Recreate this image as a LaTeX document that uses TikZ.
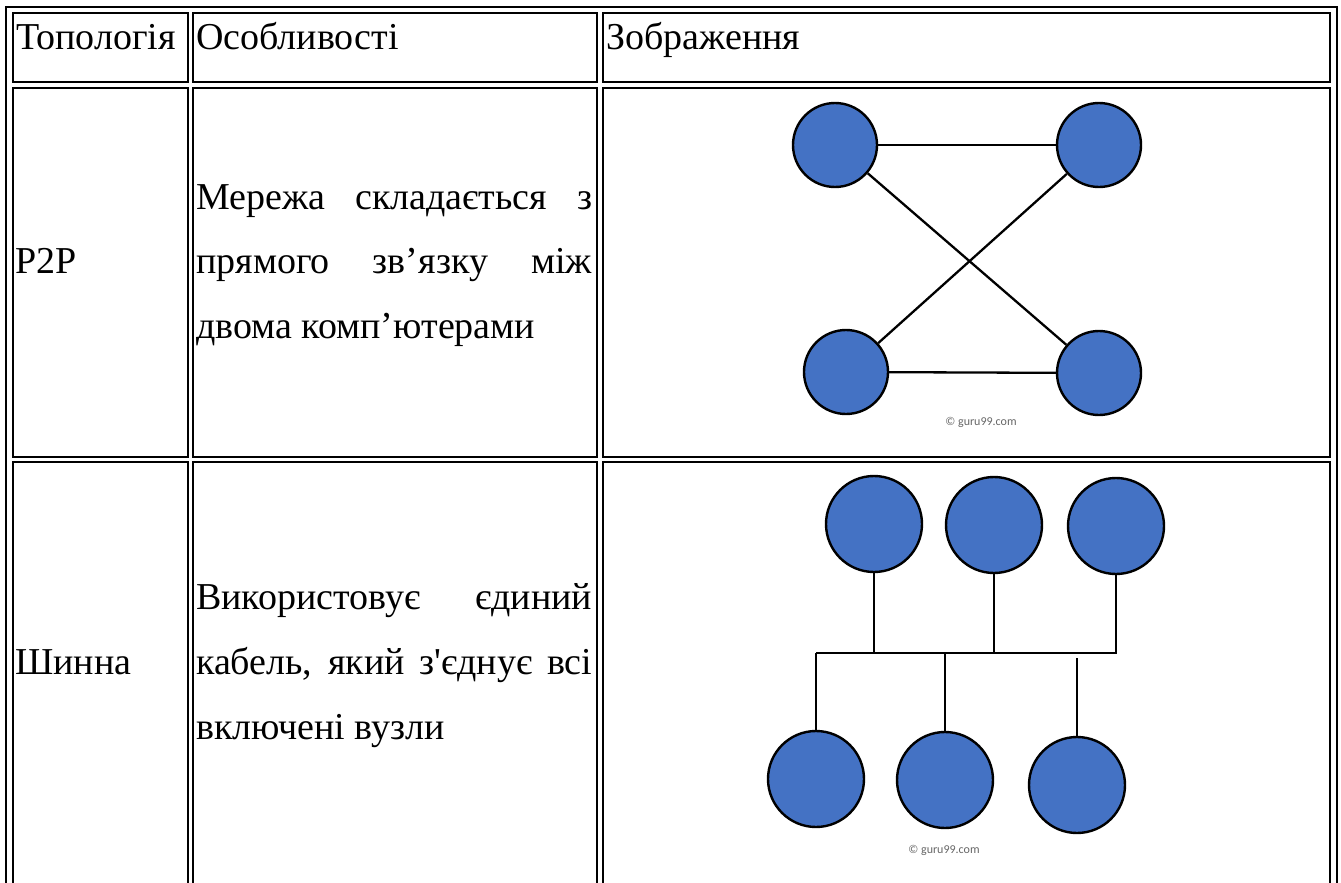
\documentclass[tikz,border=0pt]{standalone}
\usepackage{fontspec}
\setmainfont{Liberation Serif}
\newfontfamily\creditfont{Carlito}
\usepackage{tikz}
\usetikzlibrary{positioning}
\definecolor{hostblue}{HTML}{4472C4}

\begin{document}
\begin{tikzpicture}[x=1pt,y=-1pt]
\tikzstyle{every node}+=[inner sep=0pt]
\tikzstyle{cell}=[black,line width=2.4pt]
\tikzstyle{wire}=[black,line width=2.3pt]
\tikzstyle{host}=[circle,draw=black,fill=hostblue,line width=2.4pt]
\tikzstyle{txt}=[anchor=base west,font=\fontsize{38}{45}\selectfont]
\tikzstyle{credit}=[font=\creditfont\fontsize{12}{14}\selectfont,text=black!60]
\useasboundingbox (0,0) rectangle (1341,883);
\clip (0,0) rectangle (1341,883);
\fill [white] (0,0) rectangle (1341,883);
\draw [cell] (6,7) rectangle (1337,1000);
\draw [cell] (13,13) rectangle (188,82);
\draw [cell] (193,13) rectangle (597,82);
\draw [cell] (603,13) rectangle (1330,82);
\draw [cell] (13,88) rectangle (188,457);
\draw [cell] (193,88) rectangle (597,457);
\draw [cell] (603,88) rectangle (1330,457);
\draw [cell] (13,462) rectangle (188,1000);
\draw [cell] (193,462) rectangle (597,1000);
\draw [cell] (603,462) rectangle (1330,1000);
\node [txt] (hd1) at (16,50) {Топологія};
\node [txt] (hd2) at (196,50) {Особливості};
\node [txt] (hd3) at (606,50) {Зображення};
\node [txt] (tp1) at (15,273) {P2P};
\node [txt] (ds1) at (196,209) {\makebox[396pt][s]{Мережа складається з}};
\node [txt] (ds2) at (196,273) {\makebox[396pt][s]{прямого зв’язку між}};
\node [txt] (ds3) at (196,338) {двома комп’ютерами};
\node [txt] (tp2) at (15,674) {Шинна};
\node [txt] (ds4) at (196,609) {\makebox[396pt][s]{Використовує єдиний}};
\node [txt] (ds5) at (196,674) {\makebox[396pt][s]{кабель, який з\textquotesingle єднує всі}};
\node [txt] (ds6) at (196,739) {включені вузли};
\node [host,minimum size=84pt] (pa) at (835,145) {};
\node [host,minimum size=84pt] (pb) at (1099,145) {};
\node [host,minimum size=84pt] (pc) at (846,372) {};
\node [host,minimum size=84pt] (pd) at (1099,373) {};
\draw [wire] (pa) -- (pb);
\draw [wire] (pa) -- (pd);
\draw [wire] (pb) -- (pc);
\draw [wire] (pc) -- (pd);
\node [credit] (cra) at (981,422) {© guru99.com};
\node [host,minimum size=96pt] (ba) at (874,524) {};
\node [host,minimum size=96pt] (bb) at (994,525) {};
\node [host,minimum size=96pt] (bc) at (1116,526) {};
\node [host,minimum size=96pt] (bd) at (816,779) {};
\node [host,minimum size=96pt] (be) at (945,780) {};
\node [host,minimum size=96pt] (bf) at (1077,785) {};
\coordinate (busl) at (816,653);
\coordinate (busr) at (1117,653);
\coordinate (gap) at (1077,658);
\draw [wire] (busl) -- (busr);
\draw [wire] (ba) -- (ba |- busl);
\draw [wire] (bb) -- (bb |- busl);
\draw [wire] (bc) -- (bc |- busl);
\draw [wire] (bd |- busl) -- (bd);
\draw [wire] (be |- busl) -- (be);
\draw [wire] (gap) -- (bf);
\node [credit] (crb) at (944,850) {© guru99.com};
\end{tikzpicture}
\end{document}
